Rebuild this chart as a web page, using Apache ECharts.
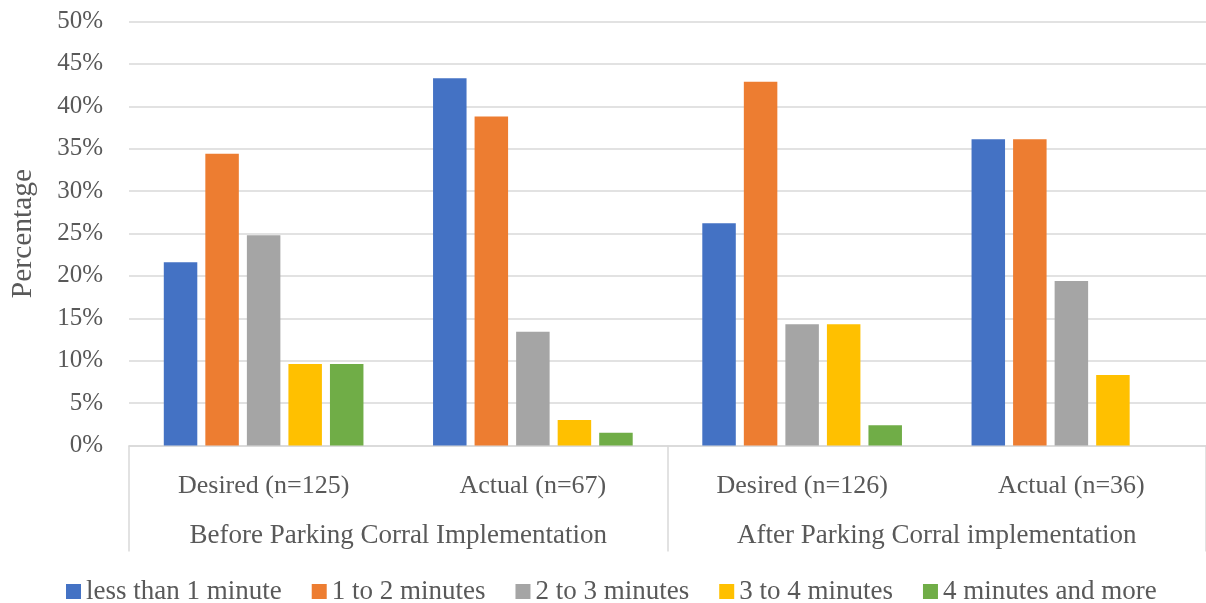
<!DOCTYPE html>
<html>
<head>
<meta charset="utf-8">
<script src="https://cdn.jsdelivr.net/npm/echarts@6/dist/echarts.min.js"></script>
<style>
  html, body { margin: 0; padding: 0; background: #ffffff; }
  #chart { width: 1206px; height: 603px; }
</style>
</head>
<body>
<div id="chart"></div>
<script>
// Survey groups (lower axis level) and their sub-categories (upper axis level)
const phases = ['Before Parking Corral Implementation', 'After Parking Corral implementation'];
const categories = ['Desired (n=125)', 'Actual (n=67)', 'Desired (n=126)', 'Actual (n=36)'];

// Share of respondents (%) per time band
const seriesNames = ['less than 1 minute', '1 to 2 minutes', '2 to 3 minutes', '3 to 4 minutes', '4 minutes and more'];
const lessThan1 = [21.6, 43.3, 26.2, 36.1];
const oneToTwo = [34.4, 38.8, 42.9, 36.1];
const twoToThree = [24.8, 13.4, 14.3, 19.4];
const threeToFour = [9.6, 3.0, 14.3, 8.3];
const fourPlus = [9.6, 1.5, 2.4, 0];
const colors = ['#4472C4', '#ED7D31', '#A5A5A5', '#FFC000', '#70AD47'];

const FONT = '"Liberation Serif", "Times New Roman", serif';
const TXT = '#595959';
const LINE = '#d9d9d9';

const values = [lessThan1, oneToTwo, twoToThree, threeToFour, fourPlus];

const chart = echarts.init(document.getElementById('chart'), null, { renderer: 'canvas' });
chart.setOption({
  animation: false,
  color: colors,
  textStyle: { fontFamily: FONT, color: TXT },
  grid: { left: 129, top: 21.5, width: 1079, height: 424, containLabel: false },
  legend: {
    data: seriesNames,
    left: 61,
    top: 573,
    icon: 'rect',
    itemWidth: 15,
    itemHeight: 15,
    itemGap: 30,
    textStyle: { fontFamily: FONT, fontSize: 27, color: TXT }
  },
  xAxis: [
    {
      type: 'category',
      data: categories,
      position: 'bottom',
      axisLine: { show: true, lineStyle: { color: LINE, width: 1.5 } },
      axisTick: { show: false },
      axisLabel: { interval: 0, fontFamily: FONT, fontSize: 26, color: TXT, margin: 28 }
    },
    {
      type: 'category',
      data: phases,
      position: 'bottom',
      offset: 106,
      axisLine: { show: false },
      axisTick: { show: true, interval: 0, inside: true, length: 106, lineStyle: { color: LINE, width: 1.5 } },
      axisLabel: { interval: 0, hideOverlap: false, inside: true, fontFamily: FONT, fontSize: 27, color: TXT, margin: 2 },
      splitLine: { show: false }
    }
  ],
  yAxis: {
    type: 'value',
    min: 0,
    max: 50,
    interval: 5,
    name: 'Percentage',
    nameLocation: 'middle',
    nameGap: 91,
    nameTextStyle: { fontFamily: FONT, fontSize: 29.5, color: TXT },
    axisLine: { show: false },
    axisTick: { show: false },
    axisLabel: { formatter: '{value}%', fontFamily: FONT, fontSize: 25, color: TXT, margin: 26 },
    splitLine: { lineStyle: { color: LINE, width: 1.5 } }
  },
  series: seriesNames.map((name, i) => ({
    name: name,
    type: 'bar',
    xAxisIndex: 0,
    data: values[i],
    barWidth: 33.5,
    barGap: '24%',
    itemStyle: { color: colors[i] }
  }))
});
</script>
</body>
</html>
